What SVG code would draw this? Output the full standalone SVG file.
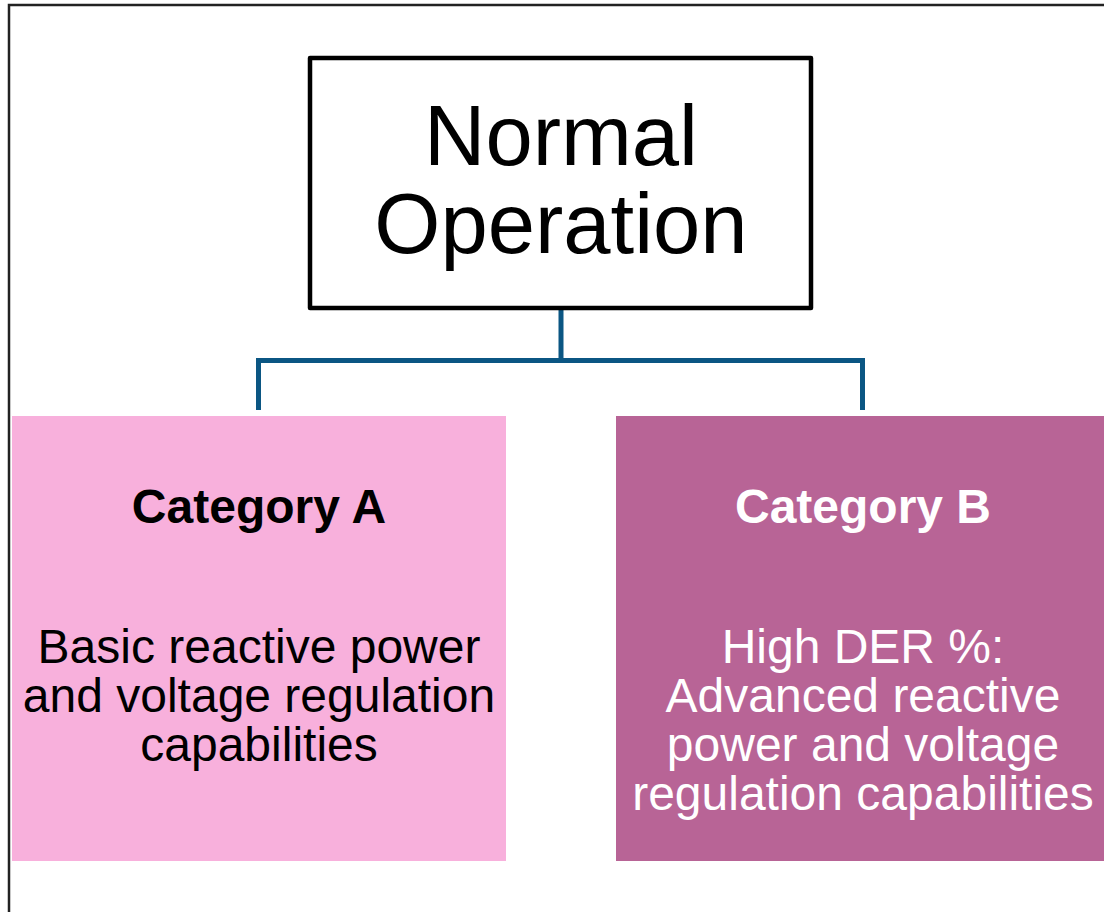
<svg xmlns="http://www.w3.org/2000/svg" width="1104" height="912" viewBox="0 0 1104 912">
<style>
.t{font-family:"Liberation Sans",Arial,sans-serif;text-anchor:middle}
.big{font-size:85px;fill:#000}
.head{font-size:48px;font-weight:bold}
.body{font-size:48px}
.conn{fill:none;stroke:#0b5683;stroke-width:5;stroke-linejoin:miter}
</style>
<rect x="0" y="0" width="1104" height="912" fill="#ffffff"/>
<rect x="9" y="5" width="1200" height="1000" fill="none" stroke="#222" stroke-width="2.5"/>
<g id="connectors">
<path class="conn" d="M561 308 V360.5"/>
<path class="conn" d="M258.5 410 V360.5 H862.5 V410"/>
</g>
<g id="normal-operation">
<rect x="310" y="58" width="501" height="250" fill="#fff" stroke="#000" stroke-width="4.5" stroke-linejoin="round"/>
<text class="t big" x="561" y="165">Normal</text>
<text class="t big" x="561" y="253">Operation</text>
</g>
<g id="category-a">
<rect x="12" y="416" width="494" height="445" fill="#f8b0dc"/>
<text class="t head" x="259" y="523" fill="#000">Category A</text>
<text class="t body" x="259" fill="#000"><tspan x="259" y="663">Basic reactive power</tspan><tspan x="259" y="712">and voltage regulation</tspan><tspan x="259" y="761">capabilities</tspan></text>
</g>
<g id="category-b">
<rect x="616" y="416" width="494" height="445" fill="#b86496"/>
<text class="t head" x="863" y="523" fill="#fff">Category B</text>
<text class="t body" x="863" fill="#fff"><tspan x="863" y="663">High DER %:</tspan><tspan x="863" y="712">Advanced reactive</tspan><tspan x="863" y="761">power and voltage</tspan><tspan x="863" y="810">regulation capabilities</tspan></text>
</g>
</svg>
